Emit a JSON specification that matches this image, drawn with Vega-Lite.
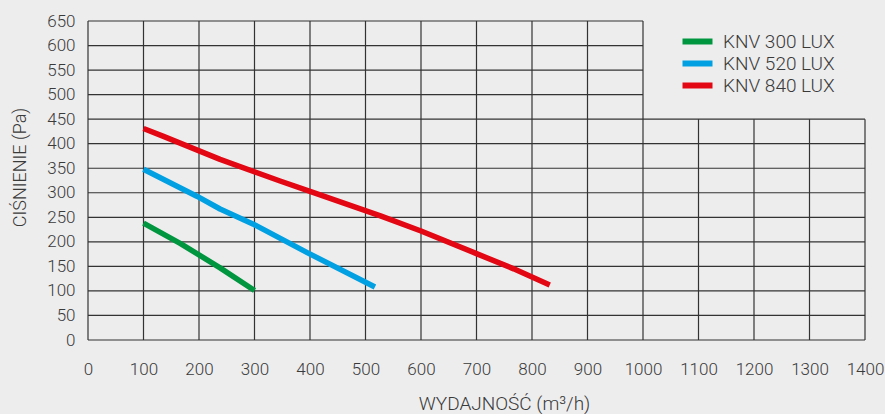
{
  "$schema": "https://vega.github.io/schema/vega-lite/v6.json",
  "width": 777,
  "height": 319,
  "autosize": {"type": "none"},
  "padding": {"left": 88, "top": 21, "right": 20, "bottom": 74},
  "background": "#ededed",
  "config": {
    "view": {"stroke": null},
    "font": "Roboto",
    "axis": {"labelFont": "Roboto", "titleFont": "Roboto", "labelColor": "#3a3a3a", "titleColor": "#3a3a3a", "labelFontSize": 17, "labelFontWeight": 300, "titleFontSize": 18, "titleFontWeight": 300, "domain": false, "ticks": false, "grid": false},
    "legend": {"labelFont": "Roboto", "labelFontSize": 19, "labelFontWeight": 300, "labelColor": "#3a3a3a"}
  },
  "datasets": {
    "grid": [
      {"x": 0, "x2": 0, "y": 0, "y2": 650},
      {"x": 100, "x2": 100, "y": 0, "y2": 650},
      {"x": 200, "x2": 200, "y": 0, "y2": 650},
      {"x": 300, "x2": 300, "y": 0, "y2": 650},
      {"x": 400, "x2": 400, "y": 0, "y2": 650},
      {"x": 500, "x2": 500, "y": 0, "y2": 650},
      {"x": 600, "x2": 600, "y": 0, "y2": 650},
      {"x": 700, "x2": 700, "y": 0, "y2": 650},
      {"x": 800, "x2": 800, "y": 0, "y2": 650},
      {"x": 900, "x2": 900, "y": 0, "y2": 650},
      {"x": 1000, "x2": 1000, "y": 0, "y2": 650},
      {"x": 1100, "x2": 1100, "y": 0, "y2": 450},
      {"x": 1200, "x2": 1200, "y": 0, "y2": 450},
      {"x": 1300, "x2": 1300, "y": 0, "y2": 450},
      {"x": 1400, "x2": 1400, "y": 0, "y2": 450},
      {"x": 0, "x2": 1400, "y": 0, "y2": 0},
      {"x": 0, "x2": 1400, "y": 50, "y2": 50},
      {"x": 0, "x2": 1400, "y": 100, "y2": 100},
      {"x": 0, "x2": 1400, "y": 150, "y2": 150},
      {"x": 0, "x2": 1400, "y": 200, "y2": 200},
      {"x": 0, "x2": 1400, "y": 250, "y2": 250},
      {"x": 0, "x2": 1400, "y": 300, "y2": 300},
      {"x": 0, "x2": 1400, "y": 350, "y2": 350},
      {"x": 0, "x2": 1400, "y": 400, "y2": 400},
      {"x": 0, "x2": 1400, "y": 450, "y2": 450},
      {"x": 0, "x2": 1000, "y": 500, "y2": 500},
      {"x": 0, "x2": 1000, "y": 550, "y2": 550},
      {"x": 0, "x2": 1000, "y": 600, "y2": 600},
      {"x": 0, "x2": 1000, "y": 650, "y2": 650}
    ],
    "curves": [
      {"model": "KNV 300 LUX", "q": 100, "p": 238},
      {"model": "KNV 300 LUX", "q": 166, "p": 197},
      {"model": "KNV 300 LUX", "q": 238, "p": 147},
      {"model": "KNV 300 LUX", "q": 300, "p": 101},
      {"model": "KNV 520 LUX", "q": 100, "p": 348},
      {"model": "KNV 520 LUX", "q": 196, "p": 293},
      {"model": "KNV 520 LUX", "q": 238, "p": 267},
      {"model": "KNV 520 LUX", "q": 298, "p": 236},
      {"model": "KNV 520 LUX", "q": 395, "p": 178},
      {"model": "KNV 520 LUX", "q": 517, "p": 108},
      {"model": "KNV 840 LUX", "q": 100, "p": 431},
      {"model": "KNV 840 LUX", "q": 136, "p": 415},
      {"model": "KNV 840 LUX", "q": 238, "p": 368},
      {"model": "KNV 840 LUX", "q": 346, "p": 324},
      {"model": "KNV 840 LUX", "q": 400, "p": 303},
      {"model": "KNV 840 LUX", "q": 527, "p": 253},
      {"model": "KNV 840 LUX", "q": 600, "p": 222},
      {"model": "KNV 840 LUX", "q": 700, "p": 176},
      {"model": "KNV 840 LUX", "q": 767, "p": 145},
      {"model": "KNV 840 LUX", "q": 832, "p": 112}
    ]
  },
  "layer": [
    {
      "data": {"name": "grid"},
      "mark": {"type": "rule", "stroke": "#333333", "strokeWidth": 1.2},
      "encoding": {
        "x": {"field": "x", "type": "quantitative", "scale": {"domain": [0, 1400], "nice": false},
          "axis": {"values": [0,100,200,300,400,500,600,700,800,900,1000,1100,1200,1300,1400], "format": "d", "labelPadding": 34, "labelBaseline": "alphabetic", "labelFlush": false, "title": "WYDAJNOŚĆ (m³/h)", "titleFontSize": 19, "titleFontWeight": 300, "titleX": 416, "titleY": 69, "titleBaseline": "alphabetic"}},
        "x2": {"field": "x2"},
        "y": {"field": "y", "type": "quantitative", "scale": {"domain": [0, 650], "nice": false},
          "axis": {"values": [0,50,100,150,200,250,300,350,400,450,500,550,600,650], "format": "d", "labelPadding": 13, "labelFlush": false, "title": "CIŚNIENIE (Pa)", "titleFontSize": 18, "titleFontWeight": 300, "titleX": -68, "titleY": 146, "titleBaseline": "middle"}},
        "y2": {"field": "y2"}
      }
    },
    {
      "data": {"name": "curves"},
      "mark": {"type": "line", "strokeWidth": 5.5, "strokeCap": "butt", "strokeJoin": "round"},
      "encoding": {
        "x": {"field": "q", "type": "quantitative", "scale": {"domain": [0, 1400], "nice": false},
          "axis": {"values": [0,100,200,300,400,500,600,700,800,900,1000,1100,1200,1300,1400], "format": "d", "labelPadding": 34, "labelBaseline": "alphabetic", "labelFlush": false, "title": "WYDAJNOŚĆ (m³/h)", "titleFontSize": 19, "titleFontWeight": 300, "titleX": 416, "titleY": 69, "titleBaseline": "alphabetic"}},
        "y": {"field": "p", "type": "quantitative", "scale": {"domain": [0, 650], "nice": false},
          "axis": {"values": [0,50,100,150,200,250,300,350,400,450,500,550,600,650], "format": "d", "labelPadding": 13, "labelFlush": false, "title": "CIŚNIENIE (Pa)", "titleFontSize": 18, "titleFontWeight": 300, "titleX": -68, "titleY": 146, "titleBaseline": "middle"}},
        "color": {"field": "model", "type": "nominal",
          "scale": {"domain": ["KNV 300 LUX", "KNV 520 LUX", "KNV 840 LUX"], "range": ["#009640", "#00a0e3", "#e30613"]},
          "legend": {"title": null, "orient": "none", "legendX": 600, "legendY": 11, "padding": 0, "symbolType": "M-2.5,0H2.5", "symbolSize": 144, "symbolStrokeWidth": 6, "labelOffset": 16, "rowPadding": -3}}
      }
    }
  ]
}
